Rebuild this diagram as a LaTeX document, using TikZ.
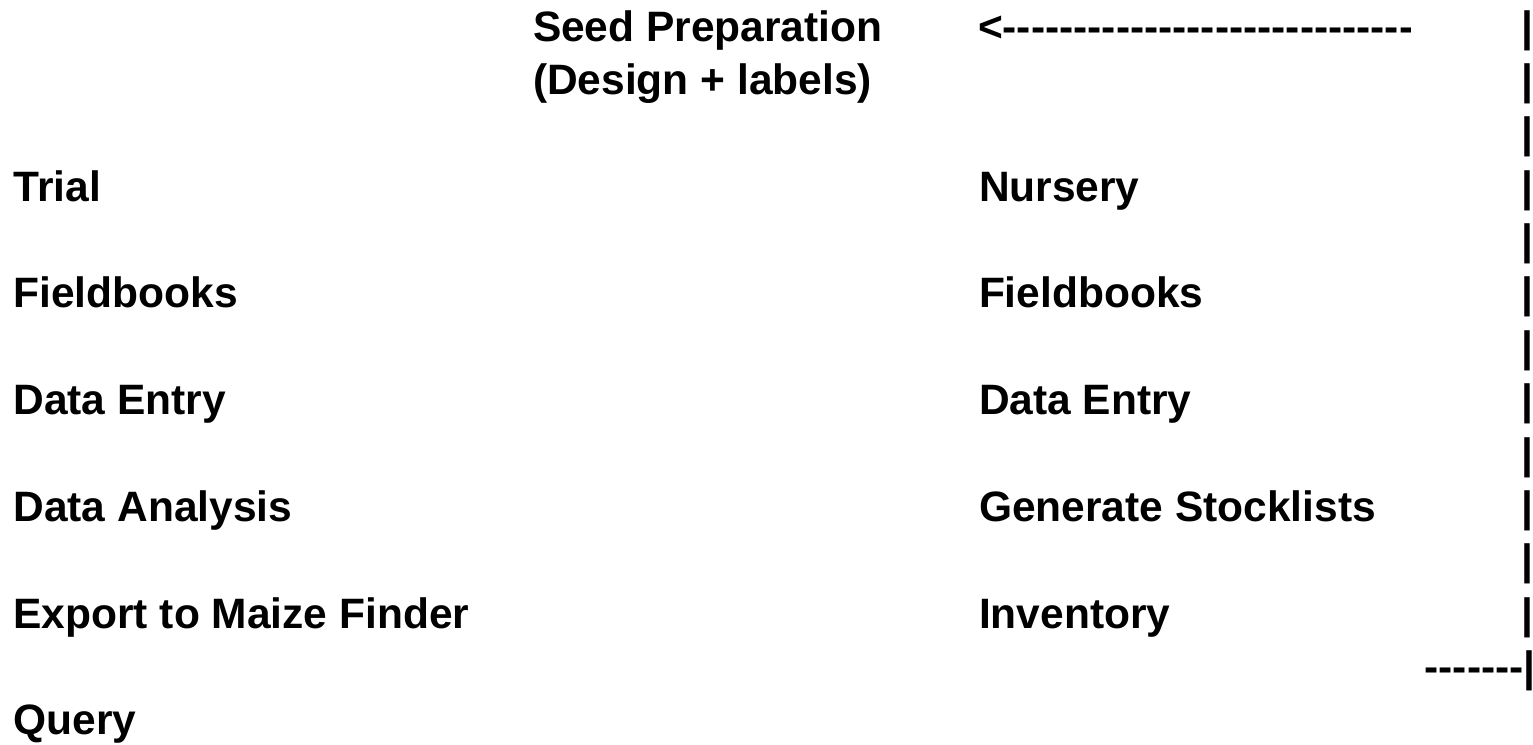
\documentclass[tikz,border=0pt]{standalone}
\usepackage{fontspec}
\setmainfont{Liberation Sans}[Ligatures=TeXOff]
\tikzset{
  lbl/.style={anchor=base west, inner sep=0pt, outer sep=0pt,
    font=\fontsize{42.5}{51}\selectfont\bfseries},
}
\begin{document}
\begin{tikzpicture}[x=1pt,y=-1pt]
\useasboundingbox (0,0) rectangle (1533,744);
\fill[white] (0,0) rectangle (1533,744);
\def\ls{53.38}
% top centre
\node[lbl] (seed) at (533,41) {Seed Preparation};
\node[lbl] (design) at (533,{41+\ls}) {(Design + labels)};
% arrow text
\begin{scope}
\clip (900,0) rectangle (1410,70);
\node[lbl] (arrow) at (978,41) {<------------------------------};
\end{scope}
% left column
\node[lbl] (trial) at (13.5,{41+3*\ls}) {Trial};
\node[lbl] (fbl) at (13.5,{41+5*\ls}) {Fieldbooks};
\node[lbl] (del) at (13.5,{41+7*\ls}) {Data Entry};
\node[lbl] (da) at (13.5,{41+9*\ls}) {Data Analysis};
\node[lbl] (exp) at (13.5,{41+11*\ls}) {Export to Maize Finder};
\node[lbl] (query) at (13.5,{41+13*\ls}) {Query};
% right column
\node[lbl] (nursery) at (979,{41+3*\ls}) {Nursery};
\node[lbl] (fbr) at (979,{41+5*\ls}) {Fieldbooks};
\node[lbl] (der) at (979,{41+7*\ls}) {Data Entry};
\node[lbl] (gs) at (979,{41+9*\ls}) {Generate Stocklists};
\node[lbl] (inv) at (979,{41+11*\ls}) {Inventory};
% pipe column
\foreach \k in {0,...,11}{
  \node[lbl] (p\k) at (1521.5,{41+\k*\ls}) {|};
}
\node[lbl, anchor=base east] (corner) at (1535.5,{41+12*\ls}) {-------|};
\end{tikzpicture}
\end{document}
